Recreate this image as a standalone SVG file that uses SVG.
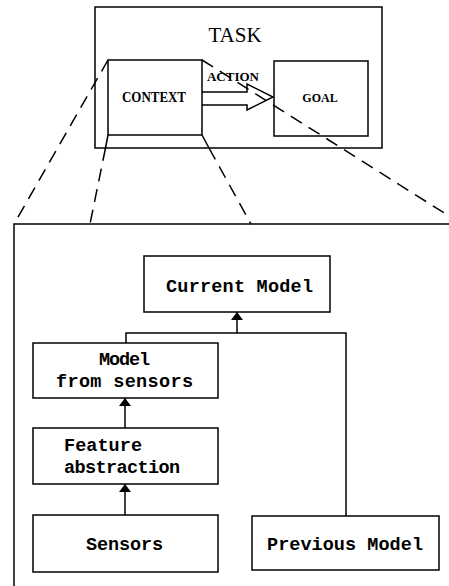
<svg xmlns="http://www.w3.org/2000/svg" width="449" height="586" viewBox="0 0 449 586">
<style>
.box{fill:#fff;stroke:#000;stroke-width:1.5}
.ln{fill:none;stroke:#000;stroke-width:1.5}
.dash{fill:none;stroke:#000;stroke-width:1.5;stroke-dasharray:13,8}
.mono{font-family:"Liberation Mono","Courier New",monospace;font-size:18.5px;font-weight:bold;fill:#000}
.serif{font-family:"Liberation Serif","Times New Roman",serif;fill:#000}
</style>
<defs>
<marker id="ah" viewBox="0 0 8 14" refX="8" refY="7" markerWidth="8" markerHeight="14" markerUnits="userSpaceOnUse" orient="auto">
<path d="M0,1 L8,7 L0,13 Z" fill="#000"/>
</marker>
</defs>
<rect width="449" height="586" fill="#fff"/>

<g id="task">
<rect class="box" x="95" y="7" width="287" height="141"/>
<text class="serif" x="235" y="42" font-size="21" text-anchor="middle">TASK</text>
</g>

<g id="context">
<rect class="box" x="108" y="60" width="94" height="75"/>
<path class="ln" d="M108,135 L105.5,148 M202,135 L209,148"/>
<text class="serif" x="154" y="102" font-size="14" font-weight="bold" text-anchor="middle" textLength="64" lengthAdjust="spacingAndGlyphs">CONTEXT</text>
</g>

<g id="goal">
<rect class="box" x="274" y="61" width="94" height="75"/>
<text class="serif" x="320" y="102" font-size="12" font-weight="bold" text-anchor="middle">GOAL</text>
</g>

<g id="action">
<path class="ln" d="M202,92 L247,92 L247,84 L273,97 L247,110 L247,105 L202,105" fill="#fff"/>
<text class="serif" x="233" y="81" font-size="13" font-weight="bold" text-anchor="middle">ACTION</text>
</g>

<g id="panel">
<path class="ln" d="M449,224 L14,224 L14,586"/>
</g>

<g id="current-model">
<rect class="box" x="144" y="256" width="186" height="56"/>
<text class="mono" x="166" y="292" textLength="147">Current Model</text>
</g>

<g id="model-from-sensors">
<rect class="box" x="33" y="343" width="185" height="55"/>
<text class="mono" x="99" y="365" textLength="51">Model</text>
<text class="mono" x="56" y="387" textLength="137">from sensors</text>
</g>

<g id="feature-abstraction">
<rect class="box" x="33" y="428" width="185" height="56"/>
<text class="mono" x="64" y="451" textLength="78">Feature</text>
<text class="mono" x="64" y="473" textLength="116">abstraction</text>
</g>

<g id="sensors">
<rect class="box" x="33" y="515" width="185" height="57"/>
<text class="mono" x="86" y="550" textLength="77">Sensors</text>
</g>

<g id="previous-model">
<rect class="box" x="252" y="516" width="187" height="54"/>
<text class="mono" x="267" y="550" textLength="156">Previous Model</text>
</g>

<g id="connectors">
<path class="dash" d="M108,60 L14,224"/>
<path class="dash" d="M105.5,148 L90,224"/>
<path class="dash" d="M209,148 L251,224"/>
<path class="dash" d="M202,60 L449,216"/>
<path class="ln" d="M125,515 L125,484" marker-end="url(#ah)"/>
<path class="ln" d="M125,428 L125,398" marker-end="url(#ah)"/>
<path class="ln" d="M126,343 L126,333 L346,333 L346,516"/>
<path class="ln" d="M237,333 L237,312" marker-end="url(#ah)"/>
</g>
</svg>
